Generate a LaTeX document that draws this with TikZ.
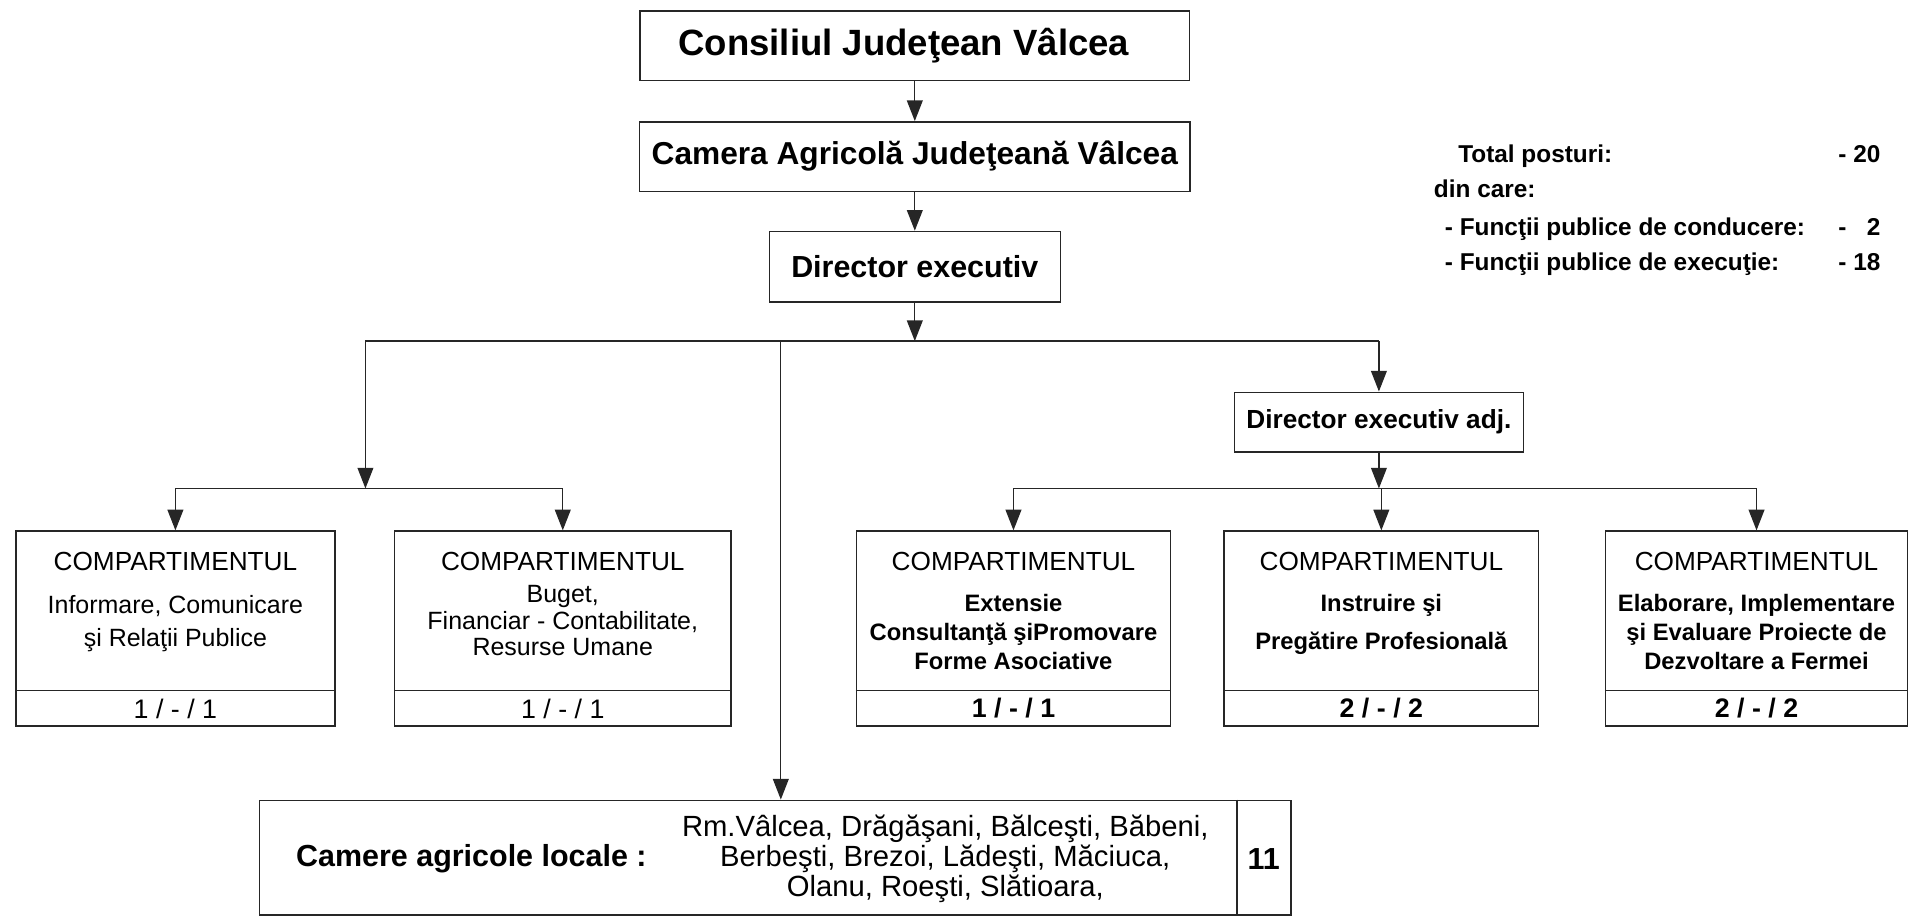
\documentclass[tikz,border=0pt]{standalone}
\usepackage{fontspec}
\setmainfont{Liberation Sans}
\usepackage{tikz}
\usetikzlibrary{positioning, arrows.meta}

\tikzset{
  box/.style={draw=black!85, line width=1.2pt, inner sep=0pt, align=center},
  dept/.style={box, minimum height=160pt},
  link/.style={draw=black!85, line width=1.1pt},
  arr/.style={link, -{Triangle[length=17pt,width=13pt]}},
  txt/.style={inner sep=0pt, align=center},
  stat/.style={inner sep=0pt, anchor=west, text height=14.5pt, text depth=4.5pt, font=\bfseries\fontsize{20}{24}\selectfont},
}

\begin{document}
\begin{tikzpicture}[x=1pt, y=-1pt]
\useasboundingbox (0,0) rectangle (1568,753);

% Upper chain
\node[box, minimum width=451pt, minimum height=57pt, font=\bfseries\fontsize{30}{36}\selectfont] (cons) at (751,37.5) {Consiliul Judeţean Vâlcea\hspace{18pt}};
\node[box, minimum width=452pt, minimum height=57pt, font=\bfseries\fontsize{26}{31}\selectfont] (cam) at (751,128.5) {Camera Agricolă Judeţeană Vâlcea};
\node[box, minimum width=239pt, minimum height=58pt, font=\bfseries\fontsize{25}{30}\selectfont] (dir) at (751,219) {Director executiv};
\node[box, minimum width=237pt, minimum height=49pt, font=\bfseries\fontsize{21.5}{26}\selectfont] (diradj) at (1132,346.5) {Director executiv adj.};

\coordinate (hub) at (751,280);
\coordinate (hl) at (300,280);
\coordinate (hr) at (1132,280);
\coordinate (mid) at (641,280);
\coordinate (lhub) at (300,401);
\coordinate (rhub) at (1132,401);

\draw[arr] (cons) -- (cam);
\draw[arr] (cam) -- (dir);
\draw[arr] (dir) -- (hub);
\draw[link] (hl) -- (hr);
\draw[arr] (hr) -- (diradj);
\draw[arr] (hl) -- (lhub);
\draw[arr] (diradj) -- (rhub);

% Compartments
\node[dept, minimum width=262pt] (b1) at (144,516) {};
\node[dept, minimum width=276pt] (b2) at (462,516) {};
\node[dept, minimum width=258pt] (b3) at (832,516) {};
\node[dept, minimum width=258pt] (b4) at (1134,516) {};
\node[dept, minimum width=248pt] (b5) at (1442,516) {};

\draw[link] (b1 |- lhub) -- (b2 |- lhub);
\draw[link] (b3 |- rhub) -- (b5 |- rhub);
\foreach \b in {b1,b2} \draw[arr] (\b |- lhub) -- (\b);
\foreach \b in {b3,b4,b5} \draw[arr] (\b |- rhub) -- (\b);

\foreach \b in {b1,b2,b3,b4,b5} {
  \node[txt, font=\fontsize{21.5}{26}\selectfont] at ([yshift=-25.5pt]\b.north) {COMPARTIMENTUL};
  \draw[link] ([yshift=30pt]\b.south west) -- ([yshift=30pt]\b.south east);
}

\node[txt, font=\fontsize{20.5}{27.5}\selectfont] at ([yshift=4pt]b1.center) {Informare, Comunicare\\şi Relaţii Publice};
\node[txt, font=\fontsize{20.5}{21.5}\selectfont] at ([yshift=6.5pt]b2.center) {Buget,\\Financiar - Contabilitate,\\Resurse Umane};
\node[txt, font=\bfseries\fontsize{19.5}{24}\selectfont] at ([yshift=-3pt]b3.center) {Extensie\\Consultanţă şiPromovare\\Forme Asociative};
\node[txt, font=\bfseries\fontsize{19.5}{31}\selectfont] at ([yshift=3.5pt]b4.center) {Instruire şi\\Pregătire Profesională};
\node[txt, font=\bfseries\fontsize{19.5}{24}\selectfont] at ([yshift=-3pt]b5.center) {Elaborare, Implementare\\şi Evaluare Proiecte de\\Dezvoltare a Fermei};

\node[txt, font=\fontsize{22}{26}\selectfont] at ([yshift=15pt]b1.south) {1 / - / 1};
\node[txt, font=\fontsize{22}{26}\selectfont] at ([yshift=15pt]b2.south) {1 / - / 1};
\node[txt, font=\bfseries\fontsize{22}{26}\selectfont] at ([yshift=15pt]b3.south) {1 / - / 1};
\node[txt, font=\bfseries\fontsize{22}{26}\selectfont] at ([yshift=15pt]b4.south) {2 / - / 2};
\node[txt, font=\bfseries\fontsize{22}{26}\selectfont] at ([yshift=15pt]b5.south) {2 / - / 2};

% Local chambers
\node[box, minimum width=847pt, minimum height=94pt] (loc) at (636.5,704) {};
\draw[arr] (mid) -- (mid |- loc.north);
\draw[link] ([xshift=-45pt]loc.north east) -- ([xshift=-45pt]loc.south east);
\node[txt, font=\bfseries\fontsize{25}{30}\selectfont] (loct) at (387,705) {Camere agricole locale :};
\node[txt, font=\fontsize{24}{24.5}\selectfont] (locl) at (776,705) {Rm.Vâlcea, Drăgăşani, Bălceşti, Băbeni,\\Berbeşti, Brezoi, Lădeşti, Măciuca,\\Olanu, Roeşti, Slătioara,};
\node[txt, font=\bfseries\fontsize{25}{30}\selectfont] (locn) at (1037.5,705) {11};

% Totals
\node[stat] (tot) at (1197,128) {Total posturi:};
\node[stat] (din) at (1177,157) {din care:};
\node[stat] (conf) at (1186,188) {- Funcţii publice de conducere:};
\node[stat] (exf) at (1186,217) {- Funcţii publice de execuţie:};
\foreach \y/\v in {128/20, 188/2, 217/18} {
  \node[stat] at (1509,\y) {-};
  \node[stat, anchor=east] at (1544,\y) {\v};
}
\end{tikzpicture}
\end{document}
